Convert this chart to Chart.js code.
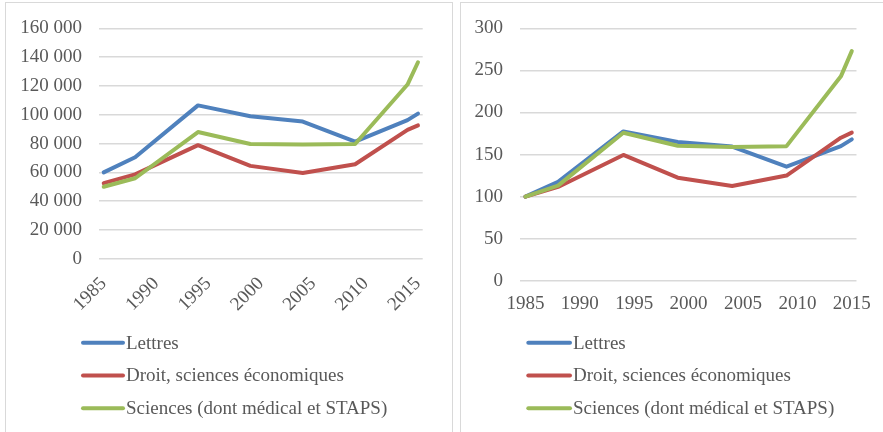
<!DOCTYPE html>
<html><head><meta charset="utf-8">
<script src="https://cdn.jsdelivr.net/npm/chart.js@4"></script>
<style>
html,body{margin:0;padding:0;background:#fff;width:883px;height:432px;overflow:hidden;}
.panel{position:absolute;border:1px solid #d9d9d9;box-sizing:border-box;}
#p1{left:5px;top:2px;width:448px;height:440px;}
#p2{left:460px;top:2px;width:440px;height:440px;}
canvas{position:absolute;top:0;}
#c1{left:0;width:455px;height:432px;}
#c2{left:455px;width:428px;height:432px;}
</style></head><body>
<div class="panel" id="p1"></div><div class="panel" id="p2"></div>
<canvas id="c1" width="455" height="432"></canvas>
<canvas id="c2" width="428" height="432"></canvas>
<script>
// ---- Data ----
const years = [1985, 1988, 1994, 1999, 2004, 2009, 2014, 2015];
const xTickYears = [1985, 1990, 1995, 2000, 2005, 2010, 2015];
const seriesNames = ['Lettres', 'Droit, sciences économiques', 'Sciences (dont médical et STAPS)'];
// Effectifs
const lettres = [60000, 70500, 106500, 99000, 95300, 81300, 96300, 100800];
const droit = [52500, 58600, 78900, 64500, 59500, 65600, 89500, 92600];
const sciences = [50000, 55900, 88000, 79700, 79300, 79700, 121000, 136500];
// Indice base 100 en 1985
const lettresIdx = [100, 117.5, 177.5, 165, 159.5, 135.5, 160, 168];
const droitIdx = [100, 111.5, 149.5, 122.5, 112.5, 125, 170, 176];
const sciencesIdx = [100, 113, 176, 160.5, 159, 160, 243, 273];
const leftYTicks = [0, 20000, 40000, 60000, 80000, 100000, 120000, 140000, 160000];
const rightYTicks = [0, 50, 100, 150, 200, 250, 300];

const colors = ['#4F81BD', '#C0504D', '#9BBB59'];
const FONT = '"Liberation Serif", "Times New Roman", serif';
const TXT = '#595959';
Chart.defaults.font.family = FONT;
Chart.defaults.font.size = 19;
Chart.defaults.color = TXT;

function pts(vals){ return years.map((y,i)=>({x:y, y:vals[i]})); }
function fmtSpace(v){ return String(v).replace(/\B(?=(\d{3})+(?!\d))/g, ' '); }

const vLegend = {
  id: 'vLegend',
  afterDraw(chart, args, opts) {
    const ctx = chart.ctx;
    ctx.save();
    chart.data.datasets.forEach((ds, i) => {
      const y = opts.y0 + i * opts.dy;
      ctx.strokeStyle = ds.borderColor; ctx.lineWidth = 4; ctx.lineCap = 'round';
      ctx.beginPath(); ctx.moveTo(opts.x0, y); ctx.lineTo(opts.x0 + opts.len, y); ctx.stroke();
      ctx.fillStyle = TXT; ctx.font = '19px ' + FONT;
      ctx.textBaseline = 'middle'; ctx.textAlign = 'left';
      ctx.fillText(ds.label, opts.x0 + opts.len + 3, y + 1);
    });
    ctx.restore();
  }
};

function makeDatasets(arrs){
  return arrs.map((a,i)=>({
    label: seriesNames[i], data: pts(a), borderColor: colors[i], backgroundColor: colors[i],
    borderWidth: 4, pointRadius: 0, tension: 0, borderJoinStyle: 'round', borderCapStyle: 'round',
    order: 3 - i
  }));
}

function makeChart(id, arrs, cfg){
  new Chart(document.getElementById(id), {
    type: 'line',
    data: { datasets: makeDatasets(arrs) },
    plugins: [vLegend],
    options: {
      responsive: false, animation: false,
      layout: { padding: cfg.padding },
      plugins: { legend: { display: false }, tooltip: { enabled: false },
        vLegend: cfg.legend },
      scales: {
        x: {
          type: 'linear', min: cfg.xmin, max: cfg.xmax,
          afterBuildTicks: s => { s.ticks = xTickYears.map(v => ({value: v})); },
          afterFit: s => { s.height = cfg.xh; },
          grid: { display: false, drawTicks: false }, border: { display: false },
          ticks: { autoSkip: false, minRotation: cfg.rot, maxRotation: cfg.rot, padding: cfg.xpad,
                   color: TXT, callback: v => String(v) }
        },
        y: {
          min: 0, max: cfg.ymax,
          afterBuildTicks: s => { s.ticks = cfg.yticks.map(v => ({value: v})); },
          afterFit: s => { s.width = cfg.yw; },
          grid: { color: '#d9d9d9', lineWidth: 1.5, drawTicks: false }, border: { display: false },
          ticks: { padding: 17, color: TXT, callback: v => fmtSpace(v) }
        }
      }
    }
  });
}

makeChart('c1', [lettres, droit, sciences], {
  padding: { left: 0, right: 32.3, top: 24, bottom: 113.3 },
  xmin: 1984.55, xmax: 2015.45, xh: 60, rot: 45, xpad: 14,
  ymax: 160000, yticks: leftYTicks, yw: 99,
  legend: { x0: 83, len: 40, y0: 342.7, dy: 32.8 }
});
makeChart('c2', [lettresIdx, droitIdx, sciencesIdx], {
  padding: { left: 0, right: 15.3, top: 24, bottom: 111.3 },
  xmin: 1984.5, xmax: 2015.43, xh: 40, rot: 0, xpad: 12,
  ymax: 300, yticks: rightYTicks, yw: 65,
  legend: { x0: 73.3, len: 41.7, y0: 342.7, dy: 32.8 }
});
</script>
</body></html>
